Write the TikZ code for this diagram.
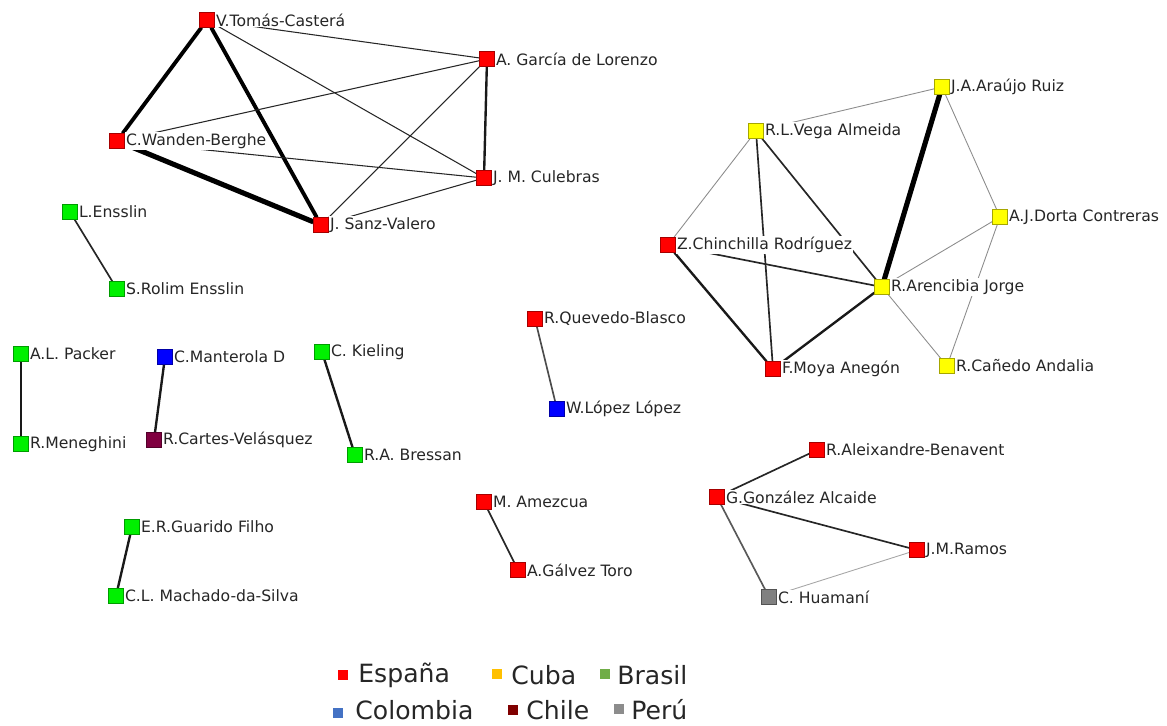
\documentclass[tikz,border=0pt]{standalone}
\usepackage{fontspec}
\setmainfont{DejaVu Sans}
\usetikzlibrary{backgrounds}
\definecolor{esp}{RGB}{255,0,0}
\definecolor{cub}{RGB}{255,255,0}
\definecolor{bra}{RGB}{0,240,0}
\definecolor{col}{RGB}{0,0,255}
\definecolor{chi}{RGB}{128,0,64}
\definecolor{per}{RGB}{128,128,128}
\definecolor{legesp}{RGB}{255,0,0}
\definecolor{legcub}{RGB}{255,192,0}
\definecolor{legbra}{RGB}{112,173,71}
\definecolor{legcol}{RGB}{68,114,196}
\definecolor{legchi}{RGB}{128,0,0}
\definecolor{legper}{RGB}{140,140,140}
\tikzset{
  au/.style={rectangle, inner sep=0pt, minimum size=0.29cm, fill=#1, draw=#1!65!black, line width=0.4pt},
  every label/.style={fill=white, inner sep=0.6pt, font=\fontsize{8.9}{9}\selectfont, text=black!85},
  legsq/.style={rectangle, inner sep=0pt, minimum size=0.2cm, fill=#1},
  legtxt/.style={anchor=west, inner sep=0pt, font=\fontsize{14.3}{16}\selectfont, text=black!85},
  wa/.style={line width=0.5pt, black!45},
  wb/.style={line width=0.6pt, black!85},
  wc/.style={line width=0.95pt, black!85},
  wd/.style={line width=1.35pt, black!90},
  we/.style={line width=2.2pt, black},
  wf/.style={line width=2.9pt, black}
}
\begin{document}
\begin{tikzpicture}[x=0.02cm, y=-0.02cm]
  \useasboundingbox (0,0) rectangle (1167,726);
  \draw
    (207,20) node[au=esp, label=right:V.Tomás-Casterá] (vtc) {}
    (487,59) node[au=esp, label=right:A. García de Lorenzo] (agl) {}
    (117,141) node[au=esp, label=right:C.Wanden-Berghe] (cwb) {}
    (484,178) node[au=esp, label=right:J. M. Culebras] (jmc) {}
    (321,225) node[au=esp, label=right:J. Sanz-Valero] (jsv) {}
    (70,212) node[au=bra, label=right:L.Ensslin] (les) {}
    (117,289) node[au=bra, label=right:S.Rolim Ensslin] (sre) {}
    (21,354) node[au=bra, label=right:A.L. Packer] (alp) {}
    (21,444) node[au=bra, label=right:R.Meneghini] (rme) {}
    (165,357) node[au=col, label=right:C.Manterola D] (cmd) {}
    (154,440) node[au=chi, label=right:R.Cartes-Velásquez] (rcv) {}
    (322,352) node[au=bra, label=right:C. Kieling] (cki) {}
    (355,455) node[au=bra, label=right:R.A. Bressan] (rab) {}
    (132,527) node[au=bra, label=right:E.R.Guarido Filho] (erg) {}
    (116,596) node[au=bra, label=right:C.L. Machado-da-Silva] (cms) {}
    (535,319) node[au=esp, label=right:R.Quevedo-Blasco] (rqb) {}
    (557,409) node[au=col, label=right:W.López López] (wll) {}
    (484,502) node[au=esp, label=right:M. Amezcua] (mam) {}
    (518,570) node[au=esp, label=right:A.Gálvez Toro] (agt) {}
    (817,450) node[au=esp, label=right:R.Aleixandre-Benavent] (rae) {}
    (717,497) node[au=esp, label=right:G.González Alcaide] (gga) {}
    (917,550) node[au=esp, label=right:J.M.Ramos] (jmr) {}
    (769,597) node[au=per, label=right:C. Huamaní] (chu) {}
    (942,87) node[au=cub, label=right:J.A.Araújo Ruiz] (jar) {}
    (756,131) node[au=cub, label=right:R.L.Vega Almeida] (rlv) {}
    (1000,217) node[au=cub, label=right:A.J.Dorta Contreras] (ajd) {}
    (668,245) node[au=esp, label=right:Z.Chinchilla Rodríguez] (zcr) {}
    (882,287) node[au=cub, label=right:R.Arencibia Jorge] (raj) {}
    (773,369) node[au=esp, label=right:F.Moya Anegón] (fma) {}
    (947,366) node[au=cub, label=right:R.Cañedo Andalia] (rca) {};
  \begin{scope}[on background layer]
    \draw[we] (vtc) -- (cwb);
    \draw[we] (vtc) -- (jsv);
    \draw[wf] (cwb) -- (jsv);
    \draw[wd] (agl) -- (jmc);
    \draw[wb] (vtc) -- (agl);
    \draw[wb] (vtc) -- (jmc);
    \draw[wb] (cwb) -- (agl);
    \draw[wb] (cwb) -- (jmc);
    \draw[wb] (jsv) -- (agl);
    \draw[wb] (jsv) -- (jmc);
    \draw[wa] (jar) -- (rlv);
    \draw[wf] (jar) -- (raj);
    \draw[wa] (jar) -- (ajd);
    \draw[wa] (rlv) -- (zcr);
    \draw[wc] (rlv) -- (fma);
    \draw[wc] (rlv) -- (raj);
    \draw[wc] (zcr) -- (raj);
    \draw[wd] (zcr) -- (fma);
    \draw[wd] (fma) -- (raj);
    \draw[wa] (raj) -- (ajd);
    \draw[wa] (raj) -- (rca);
    \draw[wa] (ajd) -- (rca);
    \draw[wc] (les) -- (sre);
    \draw[wd] (alp) -- (rme);
    \draw[wd] (cmd) -- (rcv);
    \draw[wd] (cki) -- (rab);
    \draw[wd] (erg) -- (cms);
    \draw[wc, black!70] (rqb) -- (wll);
    \draw[wc] (mam) -- (agt);
    \draw[wc] (rae) -- (gga);
    \draw[wc] (gga) -- (jmr);
    \draw[wc, black!65] (gga) -- (chu);
    \draw[wa, black!35] (jmr) -- (chu);
  \end{scope}
  \path
    (343,675) node[legsq=legesp] (lgesp) {}
    (497,674) node[legsq=legcub] (lgcub) {}
    (605,674) node[legsq=legbra] (lgbra) {}
    (338,713) node[legsq=legcol] (lgcol) {}
    (513,710) node[legsq=legchi] (lgchi) {}
    (619,709) node[legsq=legper] (lgper) {};
  \node[legtxt] (tesp) at (358,675) {España};
  \node[legtxt] (tcub) at (511,675) {Cuba};
  \node[legtxt] (tbra) at (617,675) {Brasil};
  \node[legtxt] (tcol) at (355,710) {Colombia};
  \node[legtxt] (tchi) at (526,710) {Chile};
  \node[legtxt] (tper) at (631,710) {Perú};
\end{tikzpicture}
\end{document}
